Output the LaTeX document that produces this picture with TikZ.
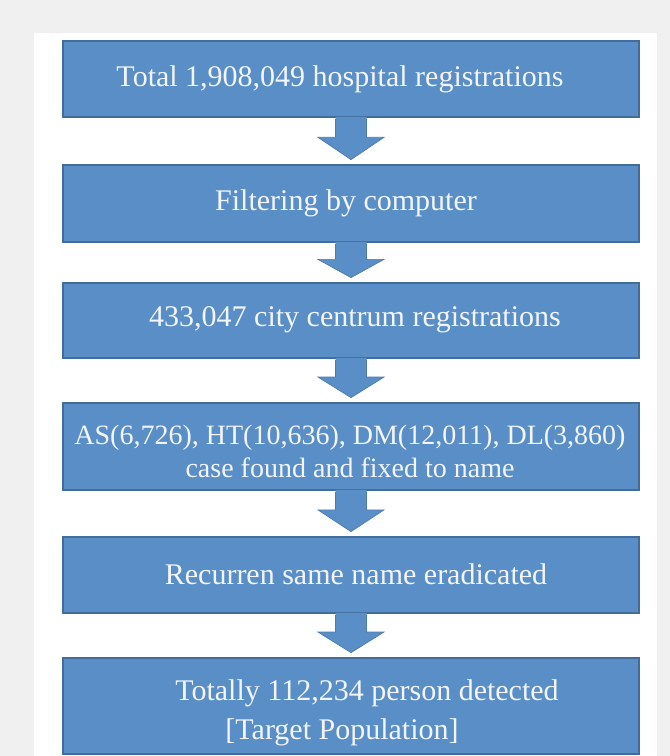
\documentclass[tikz,border=0pt]{standalone}
\usepackage{fontspec}
\setmainfont{Liberation Serif}
\usetikzlibrary{calc}
\definecolor{pagegray}{HTML}{F0F0F0}
\definecolor{boxfill}{HTML}{5A8EC7}
\definecolor{boxedge}{HTML}{426D9B}
\definecolor{txtcol}{HTML}{F2F5FA}
\tikzset{
  flowbox/.style={draw=boxedge, line width=1.8pt, fill=boxfill, minimum width=576pt, inner sep=0pt},
  flowtext/.style={text=txtcol, font=\fontsize{30}{36}\selectfont, align=center, inner sep=0pt},
  arrowfill/.style={fill=boxfill},
  arrowline/.style={draw=boxedge!60!boxfill, line width=0.7pt, line join=miter}
}
\newcommand\blockarr[2]{%
  \fill[arrowfill] let \p1=(#1.south), \p2=($(#1.south)!0.42!(#2.north)$), \p3=(#2.north) in
    (\x1-15.5pt,\y1+1pt) -- (\x1-15.5pt,\y2) -- (\x1-33pt,\y2) -- (\x1,\y3+4.5pt)
    -- (\x1+33pt,\y2) -- (\x1+15.5pt,\y2) -- (\x1+15.5pt,\y1+1pt) -- cycle;
  \draw[arrowline] let \p1=(#1.south), \p2=($(#1.south)!0.42!(#2.north)$), \p3=(#2.north) in
    (\x1-15.5pt,\y1-0.9pt) -- (\x1-15.5pt,\y2) -- (\x1-33pt,\y2) -- (\x1,\y3+4.5pt)
    -- (\x1+33pt,\y2) -- (\x1+15.5pt,\y2) -- (\x1+15.5pt,\y1-0.9pt);}
\begin{document}
\begin{tikzpicture}[x=1pt,y=-1pt]
\useasboundingbox (0,0) rectangle (670,756);
\fill[pagegray] (0,0) rectangle (670,756);
\fill[white] (34,33) rectangle (657,756);

\node[flowbox, minimum height=76pt] (b1) at (351,79) {};
\node[flowbox, minimum height=77pt] (b2) at (351,203.5) {};
\node[flowbox, minimum height=75pt] (b3) at (351,320.5) {};
\node[flowbox, minimum height=87pt] (b4) at (351,446.5) {};
\node[flowbox, minimum height=76pt] (b5) at (351,575) {};
\node[flowbox, minimum height=96pt] (b6) at (351,706) {};

\blockarr{b1}{b2}
\blockarr{b2}{b3}
\blockarr{b3}{b4}
\blockarr{b4}{b5}
\blockarr{b5}{b6}

\node[flowtext] (t1) at (340,79) {Total 1,908,049 hospital registrations};
\node[flowtext] (t2) at (346,203) {Filtering by computer};
\node[flowtext] (t3) at (355,320) {433,047 city centrum registrations};
\node[flowtext, font=\fontsize{28}{33}\selectfont] (t4) at (350,451)
  {AS(6,726), HT(10,636), DM(12,011), DL(3,860)\\case found and fixed to name};
\node[flowtext] (t5) at (356,574) {Recurren same name eradicated};
\node[flowtext] (t6a) at (367,693) {Totally 112,234 person detected};
\node[flowtext] (t6b) at (342,732) {[Target Population]};
\end{tikzpicture}
\end{document}
